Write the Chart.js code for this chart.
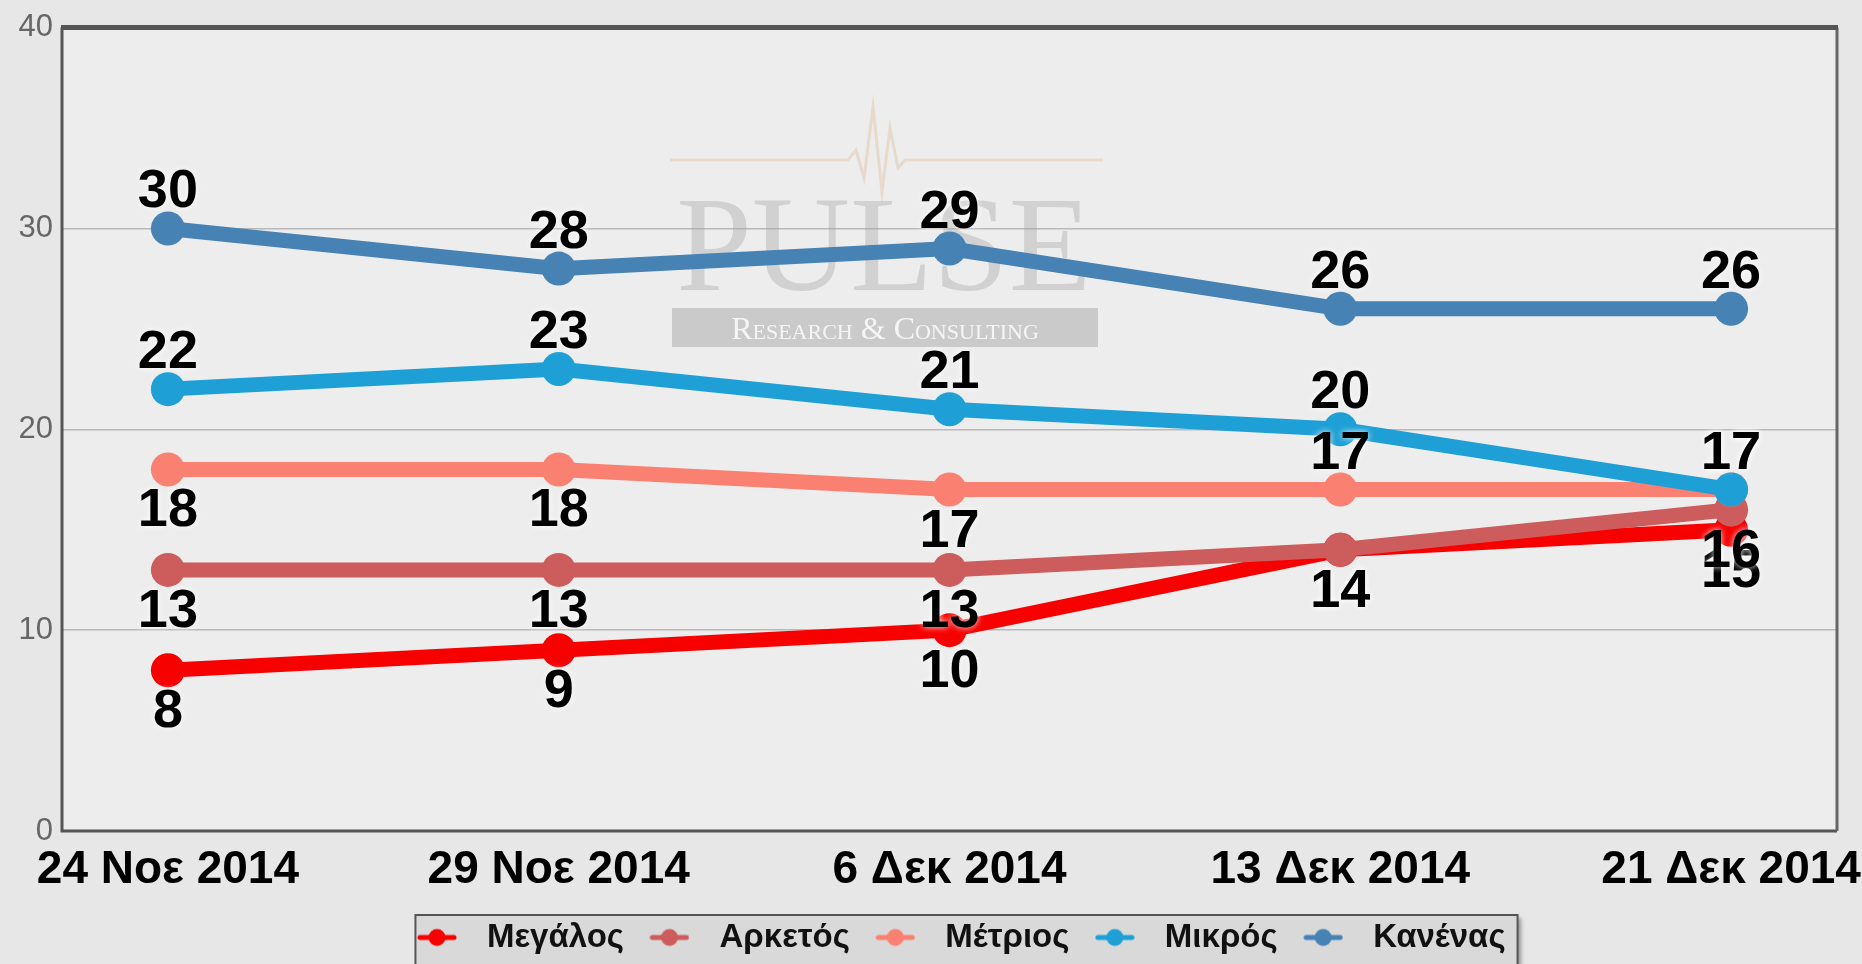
<!DOCTYPE html>
<html>
<head>
<meta charset="utf-8">
<script src="https://cdn.jsdelivr.net/npm/chart.js@4.4.1/dist/chart.umd.min.js"></script>
<style>
  html, body { margin: 0; padding: 0; background: #e7e7e7; }
  #wrap { width: 1862px; height: 964px; }
</style>
</head>
<body>
<div id="wrap"><canvas id="chart" width="1862" height="964"></canvas></div>
<script>
const dates = ['24 Νοε 2014', '29 Νοε 2014', '6 Δεκ 2014', '13 Δεκ 2014', '21 Δεκ 2014'];
const megalos = [8, 9, 10, 14, 15];
const arketos = [13, 13, 13, 14, 16];
const metrios = [18, 18, 17, 17, 17];
const mikros = [22, 23, 21, 20, 17];
const kanenas = [30, 28, 29, 26, 26];
const yTicks = [0, 10, 20, 30, 40];

const SANS = '"Liberation Sans", Arial, sans-serif';
const NARROW = '"Liberation Sans Narrow", "Arial Narrow", "Liberation Sans", sans-serif';
const LEGEND_SHIFT = 36; // legend sits a bit right of centre in the original

// line + dot marker for the legend
function legendMarker(color) {
    const c = document.createElement('canvas');
    c.width = 40; c.height = 20;
    const g = c.getContext('2d');
    g.strokeStyle = color; g.lineWidth = 5; g.lineCap = 'round';
    g.beginPath(); g.moveTo(3, 10); g.lineTo(37, 10); g.stroke();
    g.fillStyle = color;
    g.beginPath(); g.arc(20, 10, 8.5, 0, Math.PI * 2); g.fill();
    return c;
}

function series(label, values, color, side, order) {
    return {
        label: label,
        data: values.map((v, i) => ({ x: i, y: v })),
        borderColor: color,
        backgroundColor: color,
        pointBackgroundColor: color,
        pointBorderColor: color,
        borderWidth: 15,
        pointRadius: 17,
        pointBorderWidth: 0,
        pointHoverRadius: 17,
        tension: 0,
        labelSide: side,
        order: order,
        marker: legendMarker(color)
    };
}

const datasets = [
    series('Μεγάλος', megalos, '#f60000', ['b', 'b', 'b', 'b', 'b'], 5),
    series('Αρκετός', arketos, '#cd5c5c', ['b', 'b', 'b', 'b', 'b'], 4),
    series('Μέτριος', metrios, '#fa8072', ['b', 'b', 'b', 'a', 'a'], 3),
    series('Μικρός', mikros, '#1ea0d6', ['a', 'a', 'a', 'a', 'a'], 2),
    series('Κανένας', kanenas, '#4682b4', ['a', 'a', 'a', 'a', 'a'], 1)
];

const decor = {
    id: 'decor',
    afterLayout(chart) {
        const lg = chart.legend;
        lg.left += LEGEND_SHIFT;
        lg.right += LEGEND_SHIFT;
        (lg.legendHitBoxes || []).forEach(b => { b.left += LEGEND_SHIFT; });
    },
    beforeDraw(chart) {
        const { ctx, chartArea: a, legend } = chart;
        ctx.save();
        ctx.fillStyle = '#ededed';
        ctx.fillRect(a.left, a.top, a.right - a.left, a.bottom - a.top);

        // legend frame
        const hb = legend.legendHitBoxes;
        if (hb && hb.length) {
            const last = hb[hb.length - 1];
            const l = hb[0].left + 12, r = last.left + last.width + 12;
            const t = legend.top + 6, h = 52;
            ctx.shadowColor = 'rgba(0,0,0,0.35)';
            ctx.shadowOffsetX = 3; ctx.shadowOffsetY = 3; ctx.shadowBlur = 4;
            ctx.fillStyle = '#d9d9d9';
            ctx.fillRect(l, t, r - l, h);
            ctx.shadowColor = 'transparent';
            ctx.strokeStyle = '#555';
            ctx.lineWidth = 2;
            ctx.strokeRect(l, t, r - l, h);
        }
        ctx.restore();
    },
    beforeDatasetsDraw(chart) {
        const { ctx, chartArea: a } = chart;
        ctx.save();
        // watermark
        ctx.strokeStyle = 'rgba(225,195,165,0.45)';
        ctx.lineWidth = 3;
        ctx.beginPath();
        ctx.moveTo(670, 160); ctx.lineTo(848, 160); ctx.lineTo(856, 150); ctx.lineTo(864, 178);
        ctx.lineTo(873, 107); ctx.lineTo(882, 192); ctx.lineTo(890, 128); ctx.lineTo(898, 168);
        ctx.lineTo(905, 160); ctx.lineTo(1103, 160);
        ctx.stroke();
        ctx.fillStyle = 'rgba(160,160,160,0.36)';
        ctx.font = '136px "Liberation Serif", serif';
        ctx.textAlign = 'center';
        ctx.textBaseline = 'alphabetic';
        ctx.fillText('PULSE', 884, 290, 416);
        ctx.fillStyle = 'rgba(190,190,190,0.75)';
        ctx.fillRect(672, 308, 426, 39);
        ctx.fillStyle = 'rgba(250,250,250,0.9)';
        ctx.font = 'small-caps 32px "Liberation Serif", serif';
        ctx.fillText('Research & Consulting', 885, 339, 405);

        // plot frame
        ctx.strokeStyle = '#555';
        ctx.lineWidth = 3;
        ctx.beginPath();
        ctx.moveTo(a.left, a.top); ctx.lineTo(a.left, a.bottom); ctx.lineTo(a.right, a.bottom);
        ctx.stroke();
        ctx.strokeStyle = '#666';
        ctx.beginPath(); ctx.moveTo(a.right, a.top); ctx.lineTo(a.right, a.bottom); ctx.stroke();
        ctx.strokeStyle = '#555';
        ctx.lineWidth = 5;
        ctx.beginPath(); ctx.moveTo(a.left - 1, a.top); ctx.lineTo(a.right + 1, a.top); ctx.stroke();
        ctx.restore();
    },
    afterDatasetsDraw(chart) {
        const ctx = chart.ctx;
        ctx.save();
        ctx.font = 'bold 54px ' + SANS;
        ctx.textAlign = 'center';
        ctx.textBaseline = 'alphabetic';
        ctx.fillStyle = '#000';
        ctx.shadowColor = 'rgba(255,255,255,0.9)';
        ctx.shadowBlur = 6;
        chart.data.datasets.forEach((ds, i) => {
            const meta = chart.getDatasetMeta(i);
            meta.data.forEach((pt, j) => {
                const y = ds.labelSide[j] === 'a' ? pt.y - 21 : pt.y + 57;
                ctx.fillText(String(ds.data[j].y), pt.x, y);
            });
        });
        ctx.restore();
    }
};

new Chart(document.getElementById('chart'), {
    type: 'line',
    data: { datasets: datasets },
    options: {
        responsive: false,
        animation: false,
        events: [],
        layout: { padding: { top: 25, right: 25, left: 0, bottom: 0 } },
        plugins: {
            tooltip: { enabled: false },
            legend: {
                position: 'bottom',
                labels: {
                    usePointStyle: true,
                    pointStyleWidth: 67,
                    boxHeight: 20,
                    padding: 12,
                    color: '#111',
                    font: { family: SANS, size: 33, weight: 'bold' },
                    sort: (a, b) => a.datasetIndex - b.datasetIndex,
                    generateLabels: (chart) => {
                        const items = Chart.defaults.plugins.legend.labels.generateLabels(chart);
                        items.forEach(it => { it.pointStyle = chart.data.datasets[it.datasetIndex].marker; });
                        return items;
                    }
                }
            }
        },
        scales: {
            x: {
                type: 'linear',
                min: -0.271,
                max: 4.271,
                afterBuildTicks: s => { s.ticks = dates.map((d, i) => ({ value: i })); },
                afterFit: s => { s.height = 78; s.paddingLeft = 0; s.paddingRight = 0; },
                grid: { display: false, drawTicks: false },
                border: { display: false },
                ticks: {
                    autoSkip: false,
                    maxRotation: 0,
                    padding: 12,
                    color: '#000',
                    font: { family: SANS, size: 46, weight: 'bold' },
                    callback: v => dates[v]
                }
            },
            y: {
                min: 0,
                max: 40,
                afterBuildTicks: s => { s.ticks = yTicks.map(v => ({ value: v })); },
                afterFit: s => { s.width = 62; },
                grid: { color: '#b9b9b9', lineWidth: 1.5, drawTicks: false },
                border: { display: false },
                ticks: {
                    padding: 9,
                    color: '#666',
                    font: { family: NARROW, size: 31 }
                }
            }
        }
    },
    plugins: [decor]
});
</script>
</body>
</html>
